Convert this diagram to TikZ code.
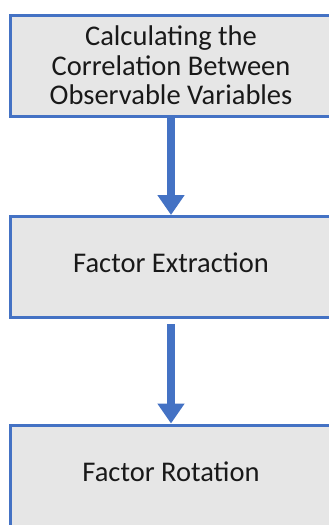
\documentclass[tikz,border=0pt]{standalone}
\usepackage{fontspec}
\setmainfont{Carlito}
\usetikzlibrary{arrows.meta}
\definecolor{boxblue}{HTML}{4472C4}
\definecolor{boxgray}{HTML}{E6E6E6}
\tikzset{
  stepbox/.style={draw=boxblue, line width=3pt, fill=boxgray, rectangle,
    minimum width=322pt, minimum height=101pt, inner sep=0pt, outer sep=0pt,
    align=center, text=black!90, font=\fontsize{28.5}{29.5}\selectfont},
  onelinebox/.style={stepbox, text depth=8pt},
  flow/.style={draw=boxblue, line width=8pt,
    -{Triangle[width=26pt,length=20pt]}}
}
\begin{document}
\begin{tikzpicture}[x=1pt,y=-1pt]
\useasboundingbox (0,0) rectangle (329,525);
\clip (0,0) rectangle (329,525);
\node[stepbox] (calc) at (171,65.5) {Calculating the\\Correlation Between\\Observable Variables};
\node[onelinebox] (extr) at (171,266.5) {Factor Extraction};
\node[onelinebox] (rot) at (171,476) {Factor Rotation};
\draw[flow, shorten <=-1pt, shorten >=1pt] (calc.south) -- (extr.north);
\draw[flow, shorten <=7pt, shorten >=2pt] (extr.south) -- (rot.north);
\end{tikzpicture}
\end{document}
